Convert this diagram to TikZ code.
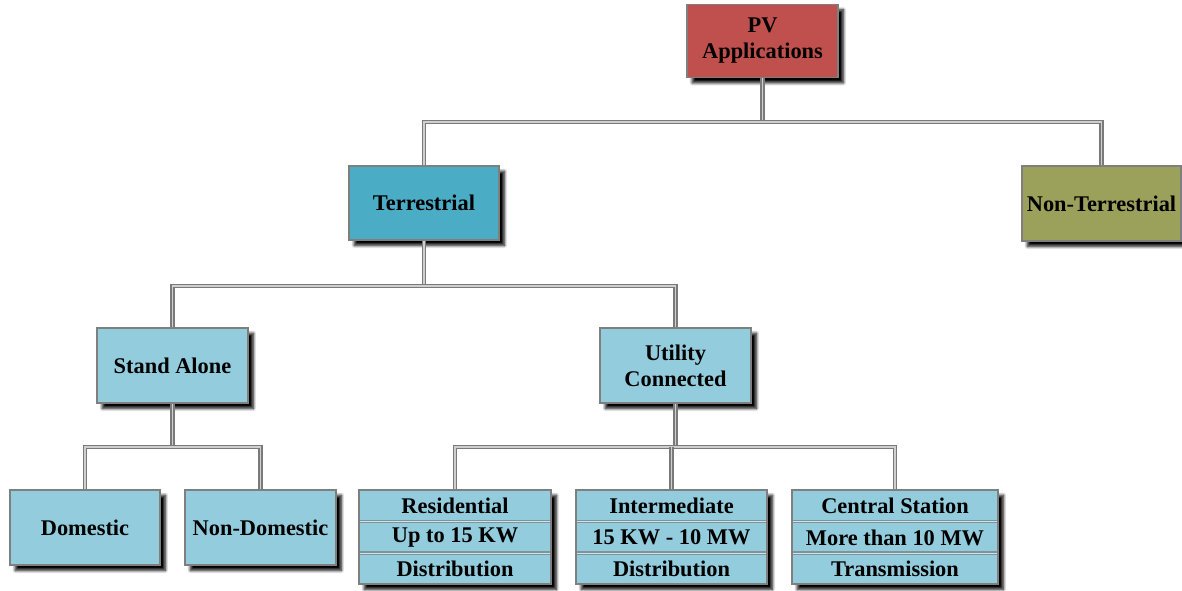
\documentclass[tikz,border=0pt]{standalone}
\usepackage{fontspec}
\setmainfont{Liberation Serif}
\usetikzlibrary{shadows.blur}
\definecolor{pvred}{HTML}{C0504D}
\definecolor{terrblue}{HTML}{4BACC6}
\definecolor{olive}{HTML}{9BA15A}
\definecolor{lightblue}{HTML}{93CDDD}
\definecolor{edgegray}{HTML}{7F7F7F}
\definecolor{linegray}{HTML}{7A7A7A}
\definecolor{linecore}{HTML}{CFCFCF}
\tikzset{
  box/.style={draw=edgegray, line width=1.1pt, rectangle, align=center,
    font=\fontsize{16.8}{19.5}\selectfont\bfseries, text=black,
    blur shadow={shadow xshift=4pt, shadow yshift=-4pt, shadow blur steps=8,
      shadow blur radius=2.2pt, shadow opacity=100}},
  std/.style={box, minimum width=113.25pt, minimum height=56.25pt},
  tri/.style={box, fill=lightblue, minimum height=70.5pt},
  cell/.style={font=\fontsize{16.8}{19.5}\selectfont\bfseries, text=black, inner sep=0pt},
  divider/.style={draw=linegray!70!lightblue, line width=0.9pt, double=lightblue!50!white, double distance=0.5pt},
  conn/.style={draw=linegray, line width=1.1pt, double=linecore, double distance=1.1pt},
  connshade/.style={draw=gray!45, line width=2.2pt, xshift=1.5pt, yshift=-1.5pt}
}
\begin{document}
\begin{tikzpicture}[x=0.75pt, y=-0.75pt]
\useasboundingbox (0,0) rectangle (1182,590);

% connector levels
\coordinate (bar1) at (0,122);
\coordinate (bar2) at (0,286);
\coordinate (bar3) at (0,447);

% top level
\node[std, fill=pvred, minimum height=54.75pt] (pv) at (762.5,41) {PV\\Applications};
\node[std, fill=terrblue, minimum width=112.5pt, minimum height=55.5pt] (terr) at (424,203) {Terrestrial};
\node[std, fill=olive, minimum width=119.25pt] (nonterr) at (1101.5,203.5) {Non-Terrestrial};

% second level
\node[std, fill=lightblue] (stand) at (172.5,365.5) {Stand Alone};
\node[std, fill=lightblue] (util) at (675.5,365.5) {Utility\\Connected};

% stand-alone branch
\node[std, fill=lightblue, minimum width=112.5pt] (dom) at (85,527.5) {Domestic};
\node[std, fill=lightblue] (nondom) at (260.5,527.5) {Non-Domestic};

% utility-connected branch: three-row boxes
\node[tri, minimum width=144pt] (res) at (455,537) {};
\node[tri, minimum width=143.25pt] (inter) at (671.5,537) {};
\node[tri, minimum width=154.5pt] (central) at (895,537) {};

\foreach \b/\la/\lb/\lc in {res/Residential/Up to 15 KW/Distribution,
                            inter/Intermediate/15 KW - 10 MW/Distribution,
                            central/Central Station/More than 10 MW/Transmission}{
  \draw[divider] ([xshift=1pt]\b.west |- 0,521.5) -- ([xshift=-1pt]\b.east |- 0,521.5);
  \draw[divider] ([xshift=1pt]\b.west |- 0,553) -- ([xshift=-1pt]\b.east |- 0,553);
  \node[cell] (\b-a) at (\b.center |- 0,506) {\la};
  \node[cell] (\b-b) at (\b.center |- 0,537.5) {\lb};
  \node[cell] (\b-c) at (\b.center |- 0,569) {\lc};
}

% connectors: a faint offset copy underneath, then the double line
\foreach \s in {connshade, conn}{
  \draw[\s] (pv.south) -- (pv.south |- bar1);
  \draw[\s] (terr.north) |- (nonterr.north |- bar1) -- (nonterr.north);
  \draw[\s] (terr.south) -- (terr.south |- bar2);
  \draw[\s] (stand.north) |- (util.north |- bar2) -- (util.north);
  \draw[\s] (stand.south) -- (stand.south |- bar3);
  \draw[\s] (dom.north) |- (nondom.north |- bar3) -- (nondom.north);
  \draw[\s] (util.south) -- (util.south |- bar3);
  \draw[\s] (res.north) |- (central.north |- bar3) -- (central.north);
  \draw[\s] (inter.north) -- (inter.north |- bar3);
}
\end{tikzpicture}
\end{document}
